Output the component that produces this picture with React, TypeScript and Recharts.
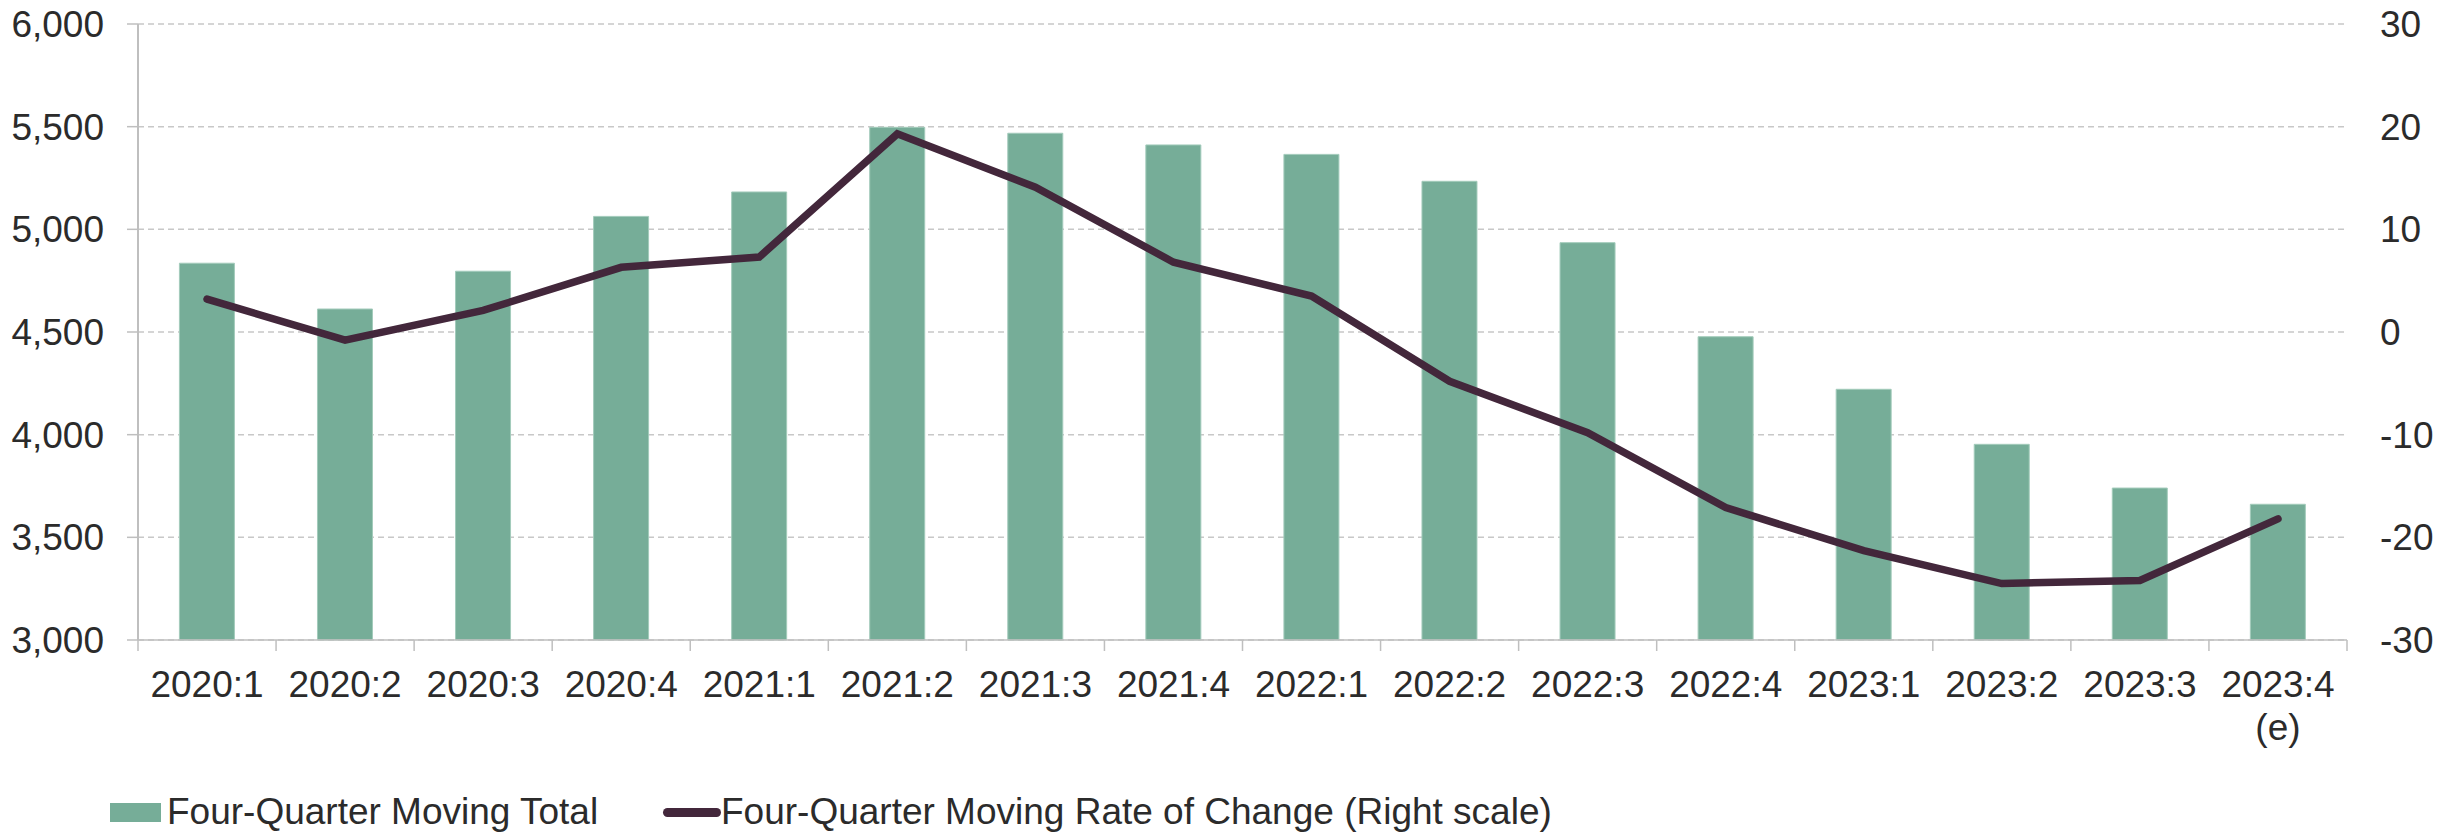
import React from 'react';
import { ComposedChart, Bar, Line, XAxis, YAxis, CartesianGrid } from 'recharts';

const quarters = [
  '2020:1', '2020:2', '2020:3', '2020:4',
  '2021:1', '2021:2', '2021:3', '2021:4',
  '2022:1', '2022:2', '2022:3', '2022:4',
  '2023:1', '2023:2', '2023:3', '2023:4 (e)',
];
const movingTotal = [4835, 4612, 4796, 5063, 5182, 5497, 5468, 5411, 5365, 5234, 4935, 4477, 4221, 3953, 3740, 3661];
const rateOfChange = [3.2, -0.8, 2.1, 6.3, 7.3, 19.3, 14.1, 6.8, 3.5, -4.8, -9.8, -17.1, -21.3, -24.5, -24.2, -18.2];
const leftTicks = [3000, 3500, 4000, 4500, 5000, 5500, 6000];
const rightTicks = [-30, -20, -10, 0, 10, 20, 30];

const W = 2458;
const H = 834;
const LEFT_W = 138;
const RIGHT_W = 111;
const BAND = (W - LEFT_W - RIGHT_W) / quarters.length;

const FONT = '"Liberation Sans", Arial, sans-serif';
const FS = 37;
const TEXT = '#2b2b2b';
const AXIS = '#BFBFBF';
const BAR = '#76AD98';
const LINE = '#43273B';

const data = quarters.map((q, i) => ({
  quarter: q,
  total: movingTotal[i],
  rate: rateOfChange[i],
}));

function QuarterTick(props: any) {
  const { x, y, payload, index } = props;
  const [main, sub] = String(payload.value).split(' ');
  const half = BAND / 2;
  return (
    <g>
      <line x1={x - half} x2={x - half} y1={y} y2={y + 11} stroke={AXIS} strokeWidth={1.5} />
      {index === quarters.length - 1 && (
        <line x1={x + half} x2={x + half} y1={y} y2={y + 11} stroke={AXIS} strokeWidth={1.5} />
      )}
      <text x={x} y={y + 57} textAnchor="middle" fill={TEXT} fontSize={FS} fontFamily={FONT}>
        {main}
      </text>
      {sub && (
        <text x={x} y={y + 100} textAnchor="middle" fill={TEXT} fontSize={FS} fontFamily={FONT}>
          {sub}
        </text>
      )}
    </g>
  );
}

export default function App() {
  return (
    <div style={{ position: 'absolute', left: 0, top: 0, width: W, height: H, background: '#fff', fontFamily: FONT }}>
      <ComposedChart
        width={W}
        height={H}
        data={data}
        margin={{ top: 24, right: 0, left: 0, bottom: 94 }}
        barCategoryGap="30%"
      >
        <CartesianGrid yAxisId="left" vertical={false} stroke="#C8C8C8" strokeDasharray="6 4" strokeWidth={1.5} />
        <XAxis
          dataKey="quarter"
          height={100}
          interval={0}
          tickLine={false}
          tickSize={0}
          tickMargin={0}
          axisLine={{ stroke: AXIS, strokeWidth: 1.5 }}
          tick={<QuarterTick />}
        />
        <YAxis
          yAxisId="left"
          width={LEFT_W}
          domain={[3000, 6000]}
          ticks={leftTicks}
          interval={0}
          tickFormatter={(v: number) => v.toLocaleString('en-US')}
          tick={{ fill: TEXT, fontSize: FS, fontFamily: FONT }}
          tickSize={11}
          tickMargin={23}
          tickLine={{ stroke: AXIS, strokeWidth: 1.5 }}
          axisLine={{ stroke: AXIS, strokeWidth: 2 }}
        />
        <YAxis
          yAxisId="right"
          orientation="right"
          width={RIGHT_W}
          domain={[-30, 30]}
          ticks={rightTicks}
          interval={0}
          tick={{ fill: TEXT, fontSize: FS, fontFamily: FONT, textAnchor: 'start' }}
          tickSize={0}
          tickMargin={33}
          tickLine={false}
          axisLine={false}
        />
        <Bar yAxisId="left" dataKey="total" fill={BAR} stroke="#A3CBBB" strokeWidth={1} isAnimationActive={false} />
        <Line
          yAxisId="right"
          dataKey="rate"
          type="linear"
          stroke={LINE}
          strokeWidth={7.5}
          strokeLinecap="round"
          dot={false}
          activeDot={false}
          isAnimationActive={false}
        />
      </ComposedChart>
      <div style={{ position: 'absolute', left: 110, top: 792, height: 40, display: 'flex', alignItems: 'center', fontSize: FS, color: TEXT, whiteSpace: 'nowrap' }}>
        <span style={{ display: 'inline-block', width: 51, height: 19, background: BAR, marginRight: 6 }} />
        <span>Four-Quarter Moving Total</span>
      </div>
      <div style={{ position: 'absolute', left: 663, top: 792, height: 40, display: 'flex', alignItems: 'center', fontSize: FS, color: TEXT, whiteSpace: 'nowrap' }}>
        <span style={{ display: 'inline-block', width: 58, height: 9, borderRadius: 5, background: LINE }} />
        <span>Four-Quarter Moving Rate of Change (Right scale)</span>
      </div>
    </div>
  );
}
